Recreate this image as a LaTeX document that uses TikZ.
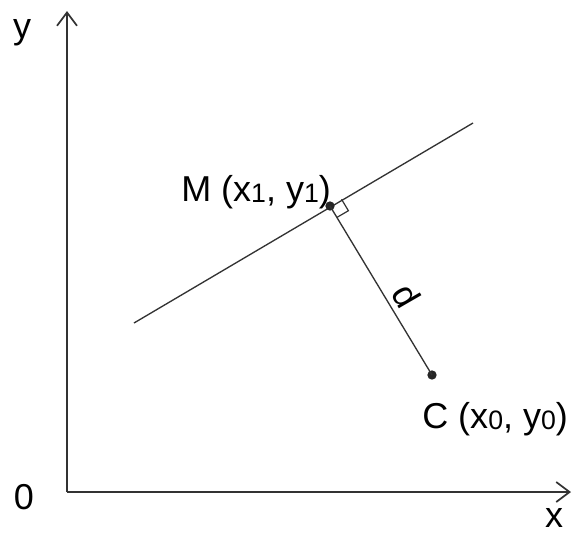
\documentclass[tikz,border=0pt]{standalone}
\usepackage{fontspec}
\setmainfont{Liberation Sans}
\usetikzlibrary{arrows.meta,calc}
\newcommand{\sbs}[1]{\raisebox{-0.04em}{\fontsize{20}{20}\selectfont #1}}
\begin{document}
\begin{tikzpicture}[x=0.75pt,y=-0.75pt,
  ln/.style={draw=black!80,line width=1pt},
  axis/.style={draw=black!80,line width=1.1pt,-{Straight Barb[length=10pt,width=15pt,line width=1.3pt]}},
  lbl/.style={font=\fontsize{27}{30}\selectfont,text=black,inner sep=0pt},
  pt/.style={circle,fill=black!85,inner sep=0pt,minimum size=7pt}]
\useasboundingbox (0,0) rectangle (574,536);
\coordinate (O) at (67,492);
\coordinate (Ytop) at (67,11);
\coordinate (Xend) at (571,492);
\draw[axis] (O) -- (Ytop);
\draw[axis] (O) -- (Xend);
\coordinate (L1) at (134,323);
\coordinate (L2) at (473,123);
\draw[ln] (L1) -- (L2);
\node[pt] (M) at (330,206) {};
\node[pt] (C) at (432,375) {};
\draw[ln] (M.center) -- (C.center);
% right angle mark
\coordinate (Ra) at ($(M.center)!10pt!(L2)$);
\coordinate (Rb) at ($(M.center)!10pt!(C.center)$);
\draw[ln,line width=0.9pt] (Ra) -- ($(Ra)+(Rb)-(M.center)$) -- (Rb);
\node[lbl] (ylab) at (22,33) {y};
\node[lbl] (xlab) at (554,518) {x};
\node[lbl] (zero) at (24,497) {0};
\node[lbl,anchor=west] (Mlab) at (181,192) {M (x\sbs{1}, y\sbs{1})};
\node[lbl,anchor=west] (Clab) at (422,419) {C (x\sbs{0}, y\sbs{0})};
\node[lbl,rotate=-60] (dlab) at (407,296) {d};
\end{tikzpicture}
\end{document}
